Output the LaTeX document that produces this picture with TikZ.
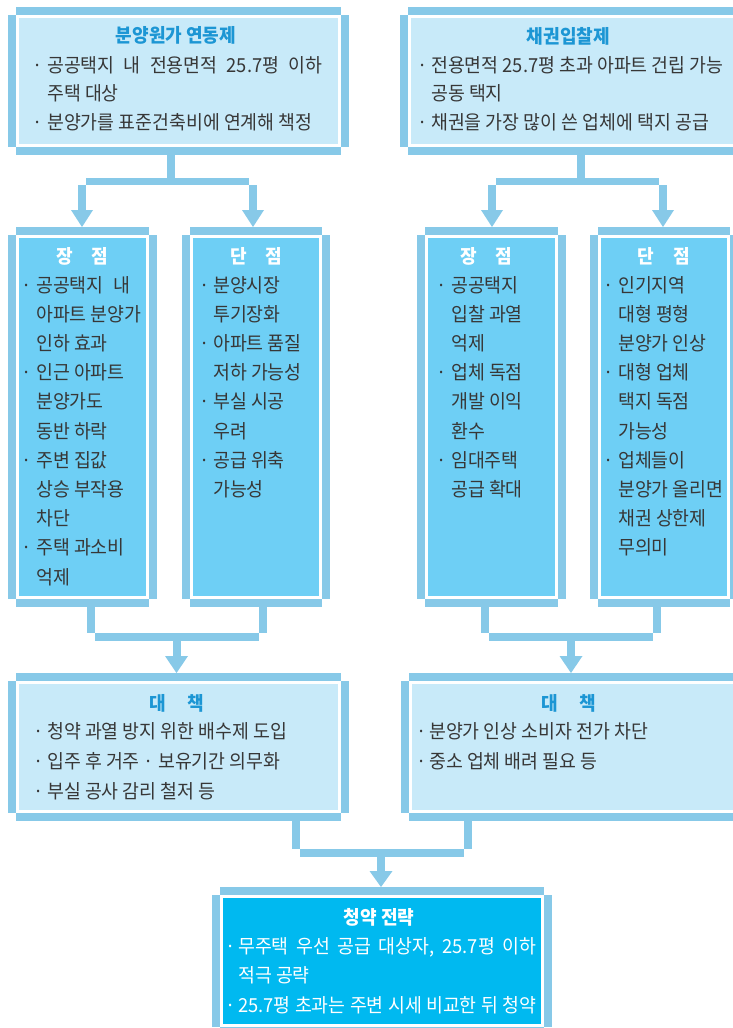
\documentclass[tikz,border=0pt]{standalone}
\usepackage{fontspec}
\setmainfont{Noto Sans CJK KR}[FakeStretch=0.95]
\definecolor{barc}{RGB}{135,201,232}
\definecolor{lightf}{RGB}{200,234,249}
\definecolor{midf}{RGB}{110,207,245}
\definecolor{darkf}{RGB}{0,185,240}
\definecolor{titc}{RGB}{28,150,212}
\definecolor{txtc}{RGB}{55,55,55}
\tikzset{
  txt/.style={font=\fontsize{19.3}{21}\selectfont, text=txtc, inner sep=0pt},
  wtxt/.style={txt, text=white},
  ttl/.style={font=\fontsize{19}{21}\selectfont\bfseries, text=titc, inner sep=0pt, anchor=base},
  wttl/.style={ttl, text=white},
  bar/.style={fill=barc},
}
% box frame: name, L, T, R, B, fill colour
\newcommand\bxf[6]{%
  \fill[bar] ({#2+8},#3) rectangle ({#4-8},{#3+8});
  \fill[bar] ({#2+8},{#5-8}) rectangle ({#4-8},#5);
  \fill[bar] (#2,{#3+8}) rectangle ({#2+8},{#5-8});
  \fill[bar] ({#4-8},{#3+8}) rectangle (#4,{#5-8});
  \pgfmathsetmacro\bw{#4-#2-22}\pgfmathsetmacro\bh{#5-#3-22}
  \node[fill=#6, inner sep=0pt, minimum width={\bw pt}, minimum height={\bh pt}, anchor=north west] (#1) at ({#2+11},{#3+11}) {};
}
% list in middle boxes: prefix, bullet x, text x, list
\newcommand\midlist[5][txt]{%
  \foreach[count=\i from 0] \myb/\myt in {#5}{%
    \pgfmathsetmacro\yy{292+29.2*\i}
    \node[#1,anchor=base west] (#2l\i) at (#4,\yy) {\myt};
    \ifnum\myb=1 \node[#1,anchor=base] (#2b\i) at (#3,\yy) {·};\fi
  }}
\begin{document}
\begin{tikzpicture}[x=1pt,y=-1pt]
\useasboundingbox (0,0) rectangle (733,1028);
\fill[white] (0,0) rectangle (733,1028);
\clip (0,0) rectangle (733,1028);

% ---------- boxes ----------
\bxf{tl}{8}{7}{349}{155}{lightf}
\bxf{tr}{400}{7}{760}{155}{lightf}
\bxf{ma}{8}{227}{157}{607}{midf}
\bxf{mb}{182}{227}{330}{607}{midf}
\bxf{mc}{417}{227}{566}{607}{midf}
\bxf{md}{590}{227}{738}{607}{midf}
\bxf{da}{8}{673}{349}{821}{lightf}
\bxf{db}{401}{673}{760}{821}{lightf}
\bxf{fin}{212}{887}{552}{1035}{darkf}

% ---------- connectors: top -> middle ----------
\fill[bar] (167,155) rectangle (175,178);
\fill[bar] (86,178) rectangle (249,185);
\fill[bar] (78,185) rectangle (86,210);
\fill[bar] (249,185) rectangle (257,210);
\fill[bar] (71,210) -- (93,210) -- (82,227) -- cycle;
\fill[bar] (242,210) -- (264,210) -- (253,227) -- cycle;

\fill[bar] (577,155) rectangle (585,178);
\fill[bar] (496,178) rectangle (659,185);
\fill[bar] (488,185) rectangle (496,210);
\fill[bar] (659,185) rectangle (667,210);
\fill[bar] (481,210) -- (503,210) -- (492,227) -- cycle;
\fill[bar] (652,210) -- (674,210) -- (663,227) -- cycle;

% ---------- connectors: middle -> measures ----------
\fill[bar] (87,607) rectangle (95,633);
\fill[bar] (259,607) rectangle (267,633);
\fill[bar] (95,633) rectangle (259,641);
\fill[bar] (173,641) rectangle (181,656);
\fill[bar] (165,656) -- (188,656) -- (176.5,673) -- cycle;

\fill[bar] (481,607) rectangle (489,633);
\fill[bar] (653,607) rectangle (661,633);
\fill[bar] (489,633) rectangle (653,641);
\fill[bar] (567,641) rectangle (575,656);
\fill[bar] (559.5,656) -- (582.5,656) -- (571,673) -- cycle;

% ---------- connectors: measures -> strategy ----------
\fill[bar] (292,821) rectangle (300,849);
\fill[bar] (464,821) rectangle (472,849);
\fill[bar] (300,849) rectangle (464,857);
\fill[bar] (377,857) rectangle (385,871);
\fill[bar] (369.5,871) -- (392.5,871) -- (381,887) -- cycle;

% ---------- texts: top ----------
\node[ttl] (tlt) at (176,42.5) {분양원가 연동제};
\node[txt,anchor=base] (tlb1) at (38,72) {·};
\node[txt,anchor=base west] (tl1) at (47,72) {\hbox to 275pt{공공택지 내 전용면적 25.7평 이하}};
\node[txt,anchor=base west] (tl2) at (47,100.5) {주택 대상};
\node[txt,anchor=base] (tlb3) at (38,129) {·};
\node[txt,anchor=base west] (tl3) at (47,129) {분양가를 표준건축비에 연계해 책정};

\node[ttl] (trt) at (568.5,43) {채권입찰제};
\node[txt,anchor=base] (trb1) at (423,72) {·};
\node[txt,anchor=base west] (tr1) at (431,72) {전용면적 25.7평 초과 아파트 건립 가능};
\node[txt,anchor=base west] (tr2) at (431,100.5) {공동 택지};
\node[txt,anchor=base] (trb3) at (423,129) {·};
\node[txt,anchor=base west] (tr3) at (431,129) {채권을 가장 많이 쓴 업체에 택지 공급};

% ---------- texts: middle ----------
\node[wttl] (mat) at (82.5,263) {장\hspace{19pt}점};
\node[wttl] (mbt) at (256.5,263) {단\hspace{19pt}점};
\node[wttl] (mct) at (486.5,263) {장\hspace{19pt}점};
\node[wttl] (mdt) at (664,263) {단\hspace{19pt}점};

\midlist{ma}{27}{36}{1/{\hbox to 94pt{공공택지 내}}, 0/아파트 분양가, 0/인하 효과, 1/인근 아파트, 0/분양가도, 0/동반 하락, 1/주변 집값, 0/상승 부작용, 0/차단, 1/주택 과소비, 0/억제}
\midlist{mb}{205}{213}{1/분양시장, 0/투기장화, 1/아파트 품질, 0/저하 가능성, 1/부실 시공, 0/우려, 1/공급 위축, 0/가능성}
\midlist{mc}{442}{451}{1/공공택지, 0/입찰 과열, 0/억제, 1/업체 독점, 0/개발 이익, 0/환수, 1/임대주택, 0/공급 확대}
\midlist{md}{609}{618}{1/인기지역, 0/대형 평형, 0/분양가 인상, 1/대형 업체, 0/택지 독점, 0/가능성, 1/업체들이, 0/분양가 올리면, 0/채권 상한제, 0/무의미}

% ---------- texts: measures ----------
\node[ttl] (dat) at (177,710) {대\hspace{21pt}책};
\node[txt,anchor=base] (dab1) at (39,738.5) {·};
\node[txt,anchor=base west] (da1) at (47,738.5) {청약 과열 방지 위한 배수제 도입};
\node[txt,anchor=base] (dab2) at (39,768.5) {·};
\node[txt,anchor=base west] (da2) at (47,768.5) {입주 후 거주 · 보유기간 의무화};
\node[txt,anchor=base] (dab3) at (39,798.5) {·};
\node[txt,anchor=base west] (da3) at (47,798.5) {부실 공사 감리 철저 등};

\node[ttl] (dbt) at (569,710) {대\hspace{21pt}책};
\node[txt,anchor=base] (dbb1) at (422,738.5) {·};
\node[txt,anchor=base west] (db1) at (429,738.5) {분양가 인상 소비자 전가 차단};
\node[txt,anchor=base] (dbb2) at (422,768.5) {·};
\node[txt,anchor=base west] (db2) at (429,768.5) {중소 업체 배려 필요 등};

% ---------- texts: strategy ----------
\node[wttl] (fint) at (379,924.5) {청약 전략};
\node[wtxt,anchor=base] (finb1) at (231,953.7) {·};
\node[wtxt,anchor=base west] (fin1) at (238,953.7) {\hbox to 298pt{무주택 우선 공급 대상자, 25.7평 이하}};
\node[wtxt,anchor=base west] (fin2) at (238,982.8) {적극 공략};
\node[wtxt,anchor=base] (finb3) at (231,1012) {·};
\node[wtxt,anchor=base west] (fin3) at (238,1012) {\hbox to 298pt{25.7평 초과는 주변 시세 비교한 뒤 청약}};
\end{tikzpicture}
\end{document}
